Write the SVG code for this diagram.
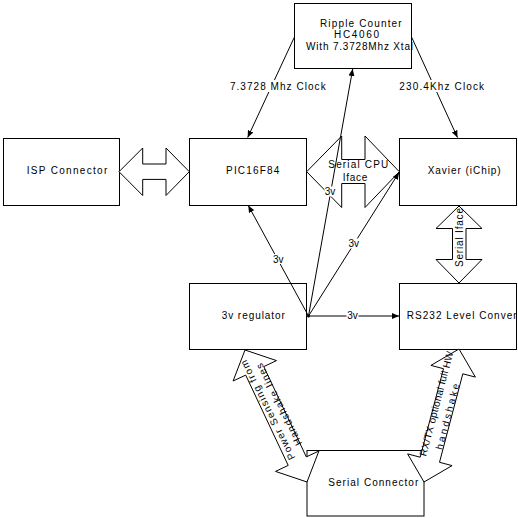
<svg xmlns="http://www.w3.org/2000/svg" width="518" height="518" viewBox="0 0 518 518">
<defs>
<style>
.box{fill:#fff;stroke:#000;stroke-width:1}
.blk{fill:#fff;stroke:#000;stroke-width:1;stroke-linejoin:miter}
.ln{stroke:#000;stroke-width:1;fill:none}
.t{font-family:"Liberation Sans",Arial,sans-serif;font-size:10px;fill:#000}
.m{text-anchor:middle}
.bg{fill:#fff;stroke:none}
</style>
<marker id="ah" markerUnits="userSpaceOnUse" markerWidth="8" markerHeight="6" refX="7" refY="3" orient="auto">
<path d="M0,0 L7,3 L0,6 z" fill="#000"/>
</marker>
</defs>
<rect width="518" height="518" fill="#fff"/>

<g id="ripple">
<rect class="box" x="294.5" y="3.5" width="117" height="65"/>
<text class="t m" x="360.8" y="26.5" textLength="81.7" lengthAdjust="spacing">Ripple Counter</text>
<text class="t m" x="356.5" y="37.5" textLength="45" lengthAdjust="spacing">HC4060</text>
<text class="t m" x="359.5" y="49.5" textLength="107" lengthAdjust="spacing">With 7.3728Mhz Xtal</text>
</g>
<g id="isp">
<rect class="box" x="3.5" y="138.5" width="116" height="67"/>
<text class="t m" x="67" y="174.3" textLength="80.6" lengthAdjust="spacing">ISP Connector</text>
</g>
<g id="pic">
<rect class="box" x="189.5" y="138.5" width="117" height="67"/>
<text class="t m" x="252.7" y="174.3" textLength="53.3" lengthAdjust="spacing">PIC16F84</text>
</g>
<g id="xavier">
<rect class="box" x="399.5" y="138.5" width="117" height="67"/>
<text class="t m" x="464.2" y="174" textLength="73" lengthAdjust="spacing">Xavier (iChip)</text>
</g>
<g id="regulator">
<rect class="box" x="189.5" y="283.5" width="117" height="66"/>
<text class="t m" x="253.3" y="318.5" textLength="63.3" lengthAdjust="spacing">3v regulator</text>
</g>
<g id="rs232">
<rect class="box" x="399.5" y="283.5" width="117" height="66"/>
<text class="t" x="406.7" y="319.3" textLength="110" lengthAdjust="spacing">RS232 Level Conver</text>
</g>
<g id="serial">
<rect class="box" x="307" y="450.5" width="117" height="65.5"/>
<text class="t m" x="373.3" y="485.5" textLength="90" lengthAdjust="spacing">Serial Connector</text>
</g>

<g id="block-arrows">
<polygon class="blk" points="119,171.7 142.7,148 142.7,164 166,164 166,148 189.3,171.7 166,195.5 166,179.4 142.7,179.4 142.7,195.5"/>
<polygon class="blk" points="306.7,171.7 341.7,136 341.7,159.5 365,159.5 365,136 399.3,171.7 365,207.5 365,183.5 341.7,183.5 341.7,207.5"/>
<text class="t m" x="358.3" y="168" textLength="60" lengthAdjust="spacing">Serial CPU</text>
<text class="t m" x="355" y="181" textLength="24.6" lengthAdjust="spacing">Iface</text>
<polygon class="blk" points="459,206 482,228.5 466,228.5 466,259.5 482,259.5 459,283 436,259.5 452.5,259.5 452.5,228.5 436,228.5"/>
<text class="t m" transform="translate(462.5,237.5) rotate(-90)" x="0" y="0" textLength="59" lengthAdjust="spacing">Serial Iface</text>
<polygon class="blk" points="245,350 276.5,360.6 263.8,366.6 306.3,456.9 318.9,451 307,482 275.5,471.4 288.2,465.4 245.7,375.1 233.1,381"/>
<g transform="translate(272.2,407.9) rotate(-116.6)">
<text class="t m" x="0" y="-1.5" textLength="110" lengthAdjust="spacing">Power Sensing from</text>
<text class="t m" x="0" y="11" textLength="90.5" lengthAdjust="spacing">Handshake lines</text>
</g>
<polygon class="blk" points="459,349 475.4,377.1 462.8,373.8 439.5,462.3 452.1,465.6 424,482 407.6,453.9 420.2,457.2 443.5,368.7 430.9,365.4"/>
<text class="t m" transform="translate(444.1,405.7) rotate(-75.3)" x="0" y="-4.5" textLength="108" lengthAdjust="spacing">RX/TX optional full HW</text>
<text class="t m" transform="translate(441.6,415) rotate(-75.3)" x="0" y="9.5" textLength="68" lengthAdjust="spacing">handshake</text>
</g>

<g id="connectors">
<line class="ln" x1="294.3" y1="37.3" x2="247.7" y2="137.5" marker-end="url(#ah)"/>
<line class="ln" x1="411.7" y1="37.3" x2="457.5" y2="137.5" marker-end="url(#ah)"/>
<line class="ln" x1="308.5" y1="316" x2="352.7" y2="69" marker-end="url(#ah)"/>
<line class="ln" x1="308.5" y1="316" x2="248.3" y2="205.5" marker-end="url(#ah)"/>
<line class="ln" x1="308.5" y1="316" x2="399" y2="172.5" marker-end="url(#ah)"/>
<line class="ln" x1="308.5" y1="316" x2="399" y2="316" marker-end="url(#ah)"/>
<circle cx="308.5" cy="316" r="1.5" fill="#000"/>
<rect class="bg" x="229" y="80" width="98" height="12"/>
<text class="t m" x="277.8" y="90" textLength="95.7" lengthAdjust="spacing">7.3728 Mhz Clock</text>
<rect class="bg" x="398" y="80" width="87" height="12"/>
<text class="t m" x="441.7" y="90" textLength="84.7" lengthAdjust="spacing">230.4Khz Clock</text>
<rect class="bg" x="324.5" y="186.5" width="11" height="10"/>
<text class="t m" x="330" y="195">3v</text>
<rect class="bg" x="272.8" y="254" width="11" height="10"/>
<text class="t m" x="278.3" y="262.7">3v</text>
<rect class="bg" x="348.2" y="238.5" width="11" height="10"/>
<text class="t m" x="353.7" y="247.3">3v</text>
<rect class="bg" x="346.5" y="311" width="12" height="10"/>
<text class="t m" x="352.5" y="319.3">3v</text>
</g>
</svg>
